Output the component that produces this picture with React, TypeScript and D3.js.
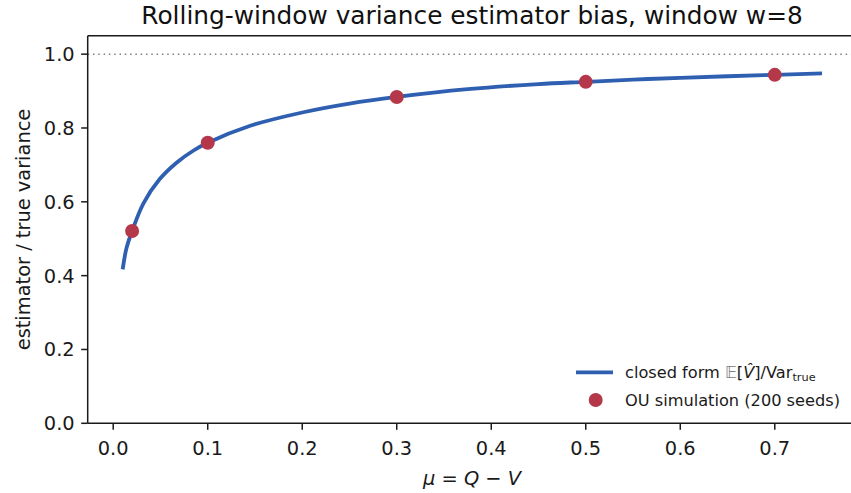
import React from "react";
import * as d3 from "d3";

const curveMu = [0.01, 0.014, 0.02, 0.032, 0.049, 0.067, 0.085, 0.1, 0.145, 0.2, 0.25, 0.3, 0.375, 0.45, 0.5, 0.55, 0.6, 0.7, 0.75];
const curveRatio = [0.417, 0.474, 0.521, 0.596, 0.661, 0.706, 0.739, 0.76, 0.806, 0.842, 0.866, 0.884, 0.905, 0.919, 0.925, 0.931, 0.936, 0.944, 0.948];
const simMu = [0.02, 0.1, 0.3, 0.5, 0.7];
const simRatio = [0.521, 0.76, 0.884, 0.925, 0.944];
const xTicks = [0.0, 0.1, 0.2, 0.3, 0.4, 0.5, 0.6, 0.7];
const yTicks = [0.0, 0.2, 0.4, 0.6, 0.8, 1.0];

const W = 851, H = 493;
const L = 87.7, R = 857, T = 35.7, B = 423.3;
const FONT = "DejaVu Sans";
const BLUE = "#2f5fb0";
const RED = "#b5384a";
const INK = "#1a1a1a";
const TICK_FS = 19.4;
const LEG_FS = 16.2;

export default function App() {
  const x = d3.scaleLinear().domain([-0.027, 0.787]).range([L, R]);
  const y = d3.scaleLinear().domain([0, 1.05]).range([B, T]);
  const pts: [number, number][] = curveMu.map((m, i) => [m, curveRatio[i]]);
  const line = d3.line<[number, number]>().x(d => x(d[0])).y(d => y(d[1])).curve(d3.curveCatmullRom.alpha(0.5));
  return (
    <svg width={W} height={H} style={{ position: "absolute", left: 0, top: 0, background: "#fff" }} fontFamily={FONT}>
      <rect x={0} y={0} width={W} height={H} fill="#fff" />
      <line x1={L} x2={R} y1={y(1)} y2={y(1)} stroke="#808080" strokeWidth={1.5} strokeDasharray="1.5 3.8" />
      <path d={line(pts) || ""} fill="none" stroke={BLUE} strokeWidth={3.8} strokeLinecap="butt" />
      {simMu.map((m, i) => (
        <circle key={i} cx={x(m)} cy={y(simRatio[i])} r={7} fill={RED} />
      ))}
      {/* spines */}
      <line x1={L} x2={L} y1={T} y2={B} stroke={INK} strokeWidth={1.5} />
      <line x1={L} x2={R} y1={B} y2={B} stroke={INK} strokeWidth={1.5} />
      <line x1={L} x2={R} y1={T} y2={T} stroke={INK} strokeWidth={1.5} />
      <line x1={R} x2={R} y1={T} y2={B} stroke={INK} strokeWidth={1.5} />
      {xTicks.map(t => (
        <g key={t}>
          <line x1={x(t)} x2={x(t)} y1={B} y2={B + 6.5} stroke={INK} strokeWidth={1.5} />
          <text x={x(t)} y={B + 31.7} textAnchor="middle" fontSize={TICK_FS} fill={INK}>{t.toFixed(1)}</text>
        </g>
      ))}
      {yTicks.map(t => (
        <g key={t}>
          <line x1={L - 6.5} x2={L} y1={y(t)} y2={y(t)} stroke={INK} strokeWidth={1.5} />
          <text x={L - 13} y={y(t) + 7} textAnchor="end" fontSize={TICK_FS} fill={INK}>{t.toFixed(1)}</text>
        </g>
      ))}
      <text x={472} y={24} textAnchor="middle" fontSize={24.8} fill="#111">Rolling-window variance estimator bias, window w=8</text>
      <text transform={`translate(30,${(T + B) / 2}) rotate(-90)`} textAnchor="middle" fontSize={TICK_FS} fill={INK}>estimator / true variance</text>
      <text x={472} y={485} textAnchor="middle" fontSize={TICK_FS} fill={INK}>
        <tspan fontStyle="italic">μ</tspan><tspan> = </tspan><tspan fontStyle="italic">Q</tspan><tspan> − </tspan><tspan fontStyle="italic">V</tspan>
      </text>
      {/* legend */}
      <line x1={576} x2={613} y1={372.3} y2={372.3} stroke={BLUE} strokeWidth={3.8} />
      <text x={625} y={377.8} fontSize={LEG_FS} fill={INK}>
        closed form <tspan fill="#808080">𝔼</tspan>[<tspan fontStyle="italic">V̂</tspan>]/Var<tspan fontSize={11.3} dy={3.5}>true</tspan>
      </text>
      <circle cx={595.7} cy={400} r={7} fill={RED} />
      <text x={625} y={405.8} fontSize={LEG_FS} fill={INK}>OU simulation (200 seeds)</text>
    </svg>
  );
}
